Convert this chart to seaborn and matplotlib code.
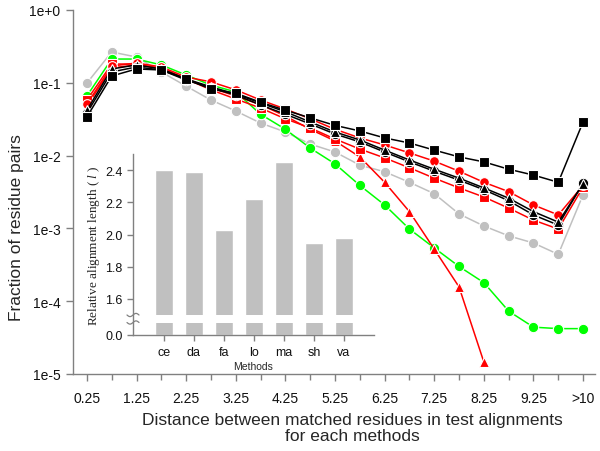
import numpy as np
import pandas as pd
import matplotlib
matplotlib.use("Agg")
import matplotlib.pyplot as plt
import seaborn as sns
from matplotlib.lines import Line2D

# ---------------- data ----------------
distance = [0.25, 0.75, 1.25, 1.75, 2.25, 2.75, 3.25, 3.75, 4.25, 4.75, 5.25,
            5.75, 6.25, 6.75, 7.25, 7.75, 8.25, 8.75, 9.25, 9.75, 10.25]
tick_positions = [0.25, 1.25, 2.25, 3.25, 4.25, 5.25, 6.25, 7.25, 8.25, 9.25, 10.25]
tick_labels = ["0.25", "1.25", "2.25", "3.25", "4.25", "5.25", "6.25", "7.25",
               "8.25", "9.25", ">10"]
minor_positions = [0.75, 1.75, 2.75, 3.75, 4.75, 5.75, 6.75, 7.75, 8.75, 9.75]

gray_circles = [0.099, 0.265, 0.226, 0.141, 0.090, 0.058, 0.041, 0.028, 0.0211, 0.0144,
                0.0112, 0.0074, 0.0060, 0.0043, 0.0030, 0.00158, 0.00108, 0.00079,
                0.00063, 0.00044, 0.0029]
green_circles = [0.066, 0.212, 0.212, 0.176, 0.128, 0.093, 0.075, 0.037, 0.023, 0.0127,
                 0.0077, 0.0039, 0.0021, 0.00098, 0.00054, 0.00030, 0.00018, 7.3e-5,
                 4.4e-5, 4.2e-5, 4.2e-5]
red_triangles = [0.048, 0.160, 0.176, 0.160, 0.113, 0.085, 0.066, 0.050, 0.035, 0.023,
                 0.0159, 0.0096, 0.0043, 0.0017, 0.00052, 0.000157, 1.46e-5,
                 np.nan, np.nan, np.nan, np.nan]
red_squares = [0.058, 0.181, 0.181, 0.155, 0.113, 0.080, 0.060, 0.045, 0.032, 0.024,
               0.0169, 0.0123, 0.0093, 0.0068, 0.0049, 0.0036, 0.0027, 0.0019,
               0.0013, 0.00098, 0.0037]
red_circles = [0.051, 0.170, 0.187, 0.165, 0.120, 0.103, 0.080, 0.058, 0.0437, 0.032,
               0.023, 0.0175, 0.0140, 0.0109, 0.0084, 0.0061, 0.0043, 0.0032,
               0.0021, 0.00153, 0.0039]
black_circles = [0.0385, 0.141, 0.165, 0.150, 0.109, 0.085, 0.068, 0.0496, 0.037, 0.0272,
                 0.0198, 0.0154, 0.0112, 0.0082, 0.0061, 0.0046, 0.0034, 0.0024,
                 0.00153, 0.00111, 0.0042]
black_triangles = [0.042, 0.155, 0.176, 0.155, 0.113, 0.088, 0.070, 0.0528, 0.040, 0.029,
                   0.0211, 0.0164, 0.0119, 0.0087, 0.0065, 0.0049, 0.0036, 0.0026,
                   0.0017, 0.00122, 0.0041]
black_squares = [0.034, 0.124, 0.155, 0.150, 0.113, 0.082, 0.072, 0.054, 0.042, 0.033,
                 0.026, 0.0218, 0.0175, 0.0149, 0.0119, 0.0096, 0.0082, 0.0065,
                 0.0054, 0.0043, 0.029]

y_ticks = [1e0, 1e-1, 1e-2, 1e-3, 1e-4, 1e-5]
y_tick_labels = ["1e+0", "1e-1", "1e-2", "1e-3", "1e-4", "1e-5"]

methods = ["ce", "da", "fa", "lo", "ma", "sh", "va"]
rel_length = [2.40, 2.39, 2.03, 2.22, 2.45, 1.95, 1.98]
inset_ticks = [0.0, 1.6, 1.8, 2.0, 2.2, 2.4]
inset_tick_labels = ["0.0", "1.6", "1.8", "2.0", "2.2", "2.4"]

series = [
    ("gray_circles", gray_circles),
    ("green_circles", green_circles),
    ("red_triangles", red_triangles),
    ("red_squares", red_squares),
    ("red_circles", red_circles),
    ("black_circles", black_circles),
    ("black_triangles", black_triangles),
    ("black_squares", black_squares),
]
styles = {
    "gray_circles": dict(color="#c0c0c0", marker="o", ms=7.5),
    "green_circles": dict(color="#00ff00", marker="o", ms=7.5),
    "red_triangles": dict(color="#ff0000", marker="^", ms=7.0),
    "red_squares": dict(color="#ff0000", marker="s", ms=7.0),
    "red_circles": dict(color="#ff0000", marker="o", ms=7.0),
    "black_circles": dict(color="#000000", marker="o", ms=7.5),
    "black_triangles": dict(color="#000000", marker="^", ms=7.5),
    "black_squares": dict(color="#000000", marker="s", ms=7.0),
}

# ---------------- style ----------------
sns.set_style("ticks")
plt.rcParams["font.family"] = ["Liberation Sans", "DejaVu Sans"]
plt.rcParams["mathtext.fontset"] = "custom"
plt.rcParams["mathtext.it"] = "Liberation Serif:italic"
plt.rcParams["mathtext.rm"] = "Liberation Serif"
spine_gray = "#808080"

fig = plt.figure(figsize=(6, 4.52), dpi=100)
W, H = 600, 452
ax = fig.add_axes([73 / W, (H - 375) / H, (595 - 73) / W, (375 - 11) / H])

for name, vals in series:
    st = styles[name]
    df = pd.DataFrame({"distance": distance, "fraction": vals}).dropna()
    sns.lineplot(data=df, x="distance", y="fraction", ax=ax, color=st["color"],
                 marker=st["marker"], markersize=st["ms"], markeredgecolor="white",
                 markeredgewidth=0.8, linewidth=1.1, estimator=None, sort=False,
                 legend=False)

ax.set_yscale("log")
ax.set_ylim(1e-5, 1)
ax.set_xlim(-0.03, 10.49)
ax.set_yticks(y_ticks)
ax.set_yticklabels(y_tick_labels)
ax.yaxis.set_minor_locator(matplotlib.ticker.NullLocator())
ax.set_xticks(tick_positions)
ax.set_xticklabels(tick_labels)
ax.set_xticks(minor_positions, minor=True)

for s in ["top", "right"]:
    ax.spines[s].set_visible(False)
for s in ["left", "bottom"]:
    ax.spines[s].set_color(spine_gray)
    ax.spines[s].set_linewidth(1.0)
ax.tick_params(axis="both", which="both", direction="out", color=spine_gray,
               width=1.0, labelsize=10, labelcolor="#111111")
ax.tick_params(axis="both", which="major", length=5, pad=4)
ax.tick_params(axis="x", which="minor", length=4)
ax.tick_params(axis="x", which="major", pad=7)

ax.set_xlabel("Distance between matched residues in test alignments\nfor each methods",
              fontsize=12.5, linespacing=1.05)
ax.xaxis.set_label_coords((352 - 73) / 522, -0.105)
ax.set_ylabel("Fraction of residue pairs", fontsize=12.5)
ax.yaxis.set_label_coords((24 - 73) / 522, (375 - 228) / 364)

# ---------------- inset ----------------
ax2 = fig.add_axes([133 / W, (H - 336) / H, (374 - 133) / W, (336 - 155) / H])
ax2.set_facecolor("none")
sns.barplot(x=methods, y=rel_length, color="#c0c0c0", saturation=1, width=0.6,
            ax=ax2, zorder=1)

brk_lo = 0.2
val_knots = [0.0, brk_lo, 1.5, 2.5]
pix_knots = [0.0, 12.0, 20.0, 181.0]

def fwd(v):
    return np.interp(v, val_knots, pix_knots)

def inv(d):
    return np.interp(d, pix_knots, val_knots)

ax2.set_yscale("function", functions=(fwd, inv))
ax2.set_ylim(0, 2.5)
ax2.set_xlim(-1.03, 7.0)
ax2.axhspan(brk_lo, 1.5, color="white", zorder=2, lw=0)
ax2.set_yticks(inset_ticks)
ax2.set_yticklabels(inset_tick_labels)
ax2.yaxis.set_minor_locator(matplotlib.ticker.NullLocator())
for s in ["top", "right"]:
    ax2.spines[s].set_visible(False)
for s in ["left", "bottom"]:
    ax2.spines[s].set_color(spine_gray)
    ax2.spines[s].set_linewidth(1.0)
    ax2.spines[s].set_zorder(3)
ax2.tick_params(axis="both", direction="out", color=spine_gray, length=4, width=1.0,
                labelsize=9, labelcolor="#111111")
ax2.tick_params(axis="x", pad=4)
ax2.set_xlabel("Methods", fontsize=7.5, labelpad=2)
ax2.set_ylabel("Relative alignment length ( $\\it{l}$ )", fontsize=9.5,
               family="Liberation Serif", labelpad=2)

# break marks on inset y-axis
for yb in (316, 323.5):
    xs = np.linspace(127, 139, 30)
    ys = yb + 1.6 * np.sin((xs - 127) / 12 * 2 * np.pi)
    fig.add_artist(Line2D(xs / W, (H - ys) / H, color=spine_gray, lw=0.9,
                          transform=fig.transFigure))

fig.savefig("out.png", dpi=100)
